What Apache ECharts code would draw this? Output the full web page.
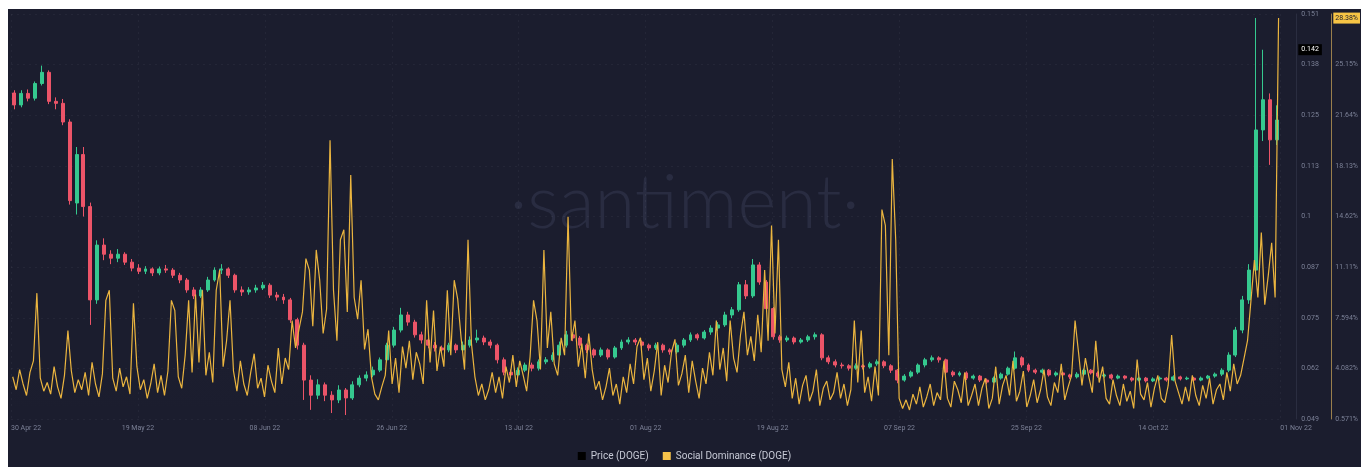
<!DOCTYPE html>
<html><head><meta charset="utf-8">
<script src="https://cdn.jsdelivr.net/npm/echarts@6/dist/echarts.min.js"></script>
<style>
html,body{margin:0;padding:0;background:#fff;}
#c{position:absolute;left:8px;top:9px;width:1353px;height:458px;background:#1b1d2e;}
</style></head><body><div id="c"></div>
<script>
const startDate = '2022-05-02';
const dayCount = 184;
const xTickLabels = ['30 Apr 22','19 May 22','08 Jun 22','26 Jun 22','13 Jul 22','01 Aug 22','19 Aug 22','07 Sep 22','25 Sep 22','14 Oct 22','01 Nov 22'];
const priceTickLabels = ['0.049','0.062','0.075','0.087','0.1','0.113','0.125','0.138','0.151'];
const sdTickLabels = ['0.571%','4.082%','7.594%','11.11%','14.62%','18.13%','21.64%','25.15%',''];
const currentPrice = 0.142;
const currentSD = 28.38;
// daily candles [open, close, low, high]
const priceOHLC = [
[.1311,.1281,.1270,.1318],[.1281,.1310,.1275,.1318],[.1310,.1298,.1290,.1320],[.1298,.1335,.1292,.1340],[.1335,.1363,.1330,.1380],
[.1363,.1290,.1283,.1368],[.1290,.1285,.1270,.1300],[.1285,.1238,.1230,.1296],[.1238,.1040,.1030,.1245],[.1034,.1156,.1005,.1175],
[.1156,.1025,.1000,.1175],[.1025,.0790,.0727,.1035],[.0790,.0928,.0780,.0940],[.0928,.0905,.0890,.0945],[.0905,.0895,.0880,.0915],
[.0895,.0905,.0885,.0918],[.0905,.0885,.0878,.0910],[.0885,.0870,.0862,.0893],[.0870,.0862,.0855,.0880],[.0862,.0868,.0855,.0875],
[.0868,.0858,.0850,.0872],[.0858,.0868,.0852,.0874],[.0868,.0865,.0858,.0878],[.0865,.0852,.0845,.0870],[.0852,.0840,.0832,.0858],
[.0840,.0815,.0808,.0845],[.0815,.0800,.0792,.0822],[.0800,.0815,.0795,.0822],[.0815,.0840,.0810,.0848],[.0840,.0865,.0836,.0872],
[.0865,.0868,.0855,.0880],[.0868,.0852,.0845,.0872],[.0852,.0815,.0808,.0856],[.0815,.0810,.0800,.0824],[.0810,.0815,.0803,.0822],
[.0815,.0820,.0808,.0828],[.0820,.0827,.0815,.0835],[.0827,.0802,.0795,.0832],[.0802,.0797,.0788,.0810],[.0797,.0790,.0780,.0805],
[.0790,.0740,.0732,.0795],[.0740,.0676,.0665,.0745],[.0676,.0588,.0538,.0682],[.0588,.0550,.0513,.0600],[.0550,.0576,.0540,.0590],
[.0576,.0550,.0535,.0582],[.0550,.0538,.0505,.0560],[.0538,.0563,.0530,.0575],[.0563,.0543,.0500,.0568],[.0543,.0576,.0538,.0585],
[.0576,.0593,.0570,.0600],[.0593,.0601,.0585,.0610],[.0601,.0613,.0595,.0622],[.0613,.0639,.0608,.0645],[.0639,.0676,.0632,.0682],
[.0676,.0714,.0670,.0722],[.0714,.0752,.0708,.0770],[.0752,.0734,.0725,.0760],[.0734,.0702,.0695,.0740],[.0702,.0689,.0680,.0710],
[.0689,.0676,.0668,.0695],[.0676,.0669,.0660,.0684],[.0669,.0664,.0655,.0675],[.0664,.0676,.0658,.0682],[.0676,.0664,.0656,.0680],
[.0664,.0676,.0660,.0685],[.0676,.0689,.0670,.0698],[.0689,.0694,.0682,.0715],[.0694,.0684,.0676,.0700],[.0684,.0676,.0668,.0690],
[.0676,.0639,.0630,.0680],[.0639,.0608,.0600,.0645],[.0608,.0601,.0592,.0615],[.0601,.0613,.0596,.0620],[.0613,.0626,.0608,.0632],
[.0626,.0618,.0610,.0632],[.0618,.0634,.0612,.0640],[.0634,.0639,.0628,.0646],[.0639,.0651,.0634,.0658],[.0651,.0676,.0646,.0685],
[.0676,.0702,.0670,.0712],[.0702,.0694,.0686,.0708],[.0694,.0676,.0668,.0699],[.0676,.0664,.0656,.0680],[.0664,.0651,.0644,.0668],
[.0651,.0664,.0646,.0670],[.0664,.0646,.0640,.0668],[.0646,.0669,.0642,.0674],[.0669,.0684,.0664,.0690],[.0684,.0689,.0678,.0696],
[.0689,.0684,.0676,.0694],[.0684,.0676,.0670,.0688],[.0676,.0669,.0662,.0680],[.0669,.0676,.0664,.0682],[.0676,.0664,.0657,.0680],
[.0664,.0659,.0652,.0668],[.0659,.0676,.0654,.0682],[.0676,.0689,.0670,.0694],[.0689,.0702,.0684,.0708],[.0702,.0694,.0688,.0706],
[.0694,.0709,.0690,.0714],[.0709,.0719,.0702,.0726],[.0719,.0727,.0712,.0734],[.0727,.0752,.0722,.0760],[.0752,.0765,.0744,.0772],
[.0765,.0828,.0760,.0835],[.0828,.0800,.0792,.0840],[.0800,.0878,.0795,.0893],[.0878,.0835,.0828,.0885],[.0835,.0768,.0760,.0840],
[.0768,.0697,.0690,.0772],[.0697,.0689,.0682,.0702],[.0689,.0694,.0684,.0700],[.0694,.0684,.0678,.0698],[.0684,.0689,.0680,.0694],
[.0689,.0697,.0684,.0702],[.0697,.0702,.0690,.0708],[.0702,.0644,.0638,.0706],[.0644,.0634,.0628,.0650],[.0634,.0626,.0620,.0640],
[.0626,.0624,.0617,.0632],[.0624,.0618,.0612,.0628],[.0618,.0624,.0614,.0630],[.0624,.0621,.0615,.0628],[.0621,.0629,.0617,.0634],
[.0629,.0634,.0624,.0640],[.0634,.0624,.0618,.0638],[.0624,.0613,.0606,.0628],[.0613,.0588,.0580,.0616],[.0588,.0598,.0584,.0603],
[.0598,.0608,.0594,.0612],[.0608,.0626,.0603,.0630],[.0626,.0639,.0620,.0644],[.0639,.0644,.0634,.0650],[.0644,.0639,.0632,.0648],
[.0639,.0608,.0602,.0642],[.0608,.0601,.0596,.0612],[.0601,.0606,.0597,.0610],[.0606,.0593,.0588,.0610],[.0593,.0598,.0589,.0602],
[.0598,.0588,.0583,.0601],[.0588,.0583,.0578,.0592],[.0583,.0593,.0580,.0597],[.0593,.0603,.0589,.0607],[.0603,.0618,.0599,.0622],
[.0618,.0644,.0614,.0660],[.0644,.0626,.0620,.0648],[.0626,.0613,.0608,.0630],[.0613,.0608,.0603,.0617],[.0608,.0613,.0604,.0617],
[.0613,.0601,.0597,.0616],[.0601,.0606,.0597,.0610],[.0606,.0601,.0596,.0609],[.0601,.0596,.0591,.0604],[.0596,.0603,.0592,.0608],
[.0603,.0613,.0599,.0617],[.0613,.0606,.0602,.0616],[.0606,.0598,.0594,.0610],[.0598,.0601,.0594,.0604],[.0601,.0593,.0589,.0604],
[.0593,.0598,.0590,.0602],[.0598,.0593,.0589,.0600],[.0593,.0588,.0584,.0596],[.0588,.0593,.0585,.0597],[.0593,.0586,.0582,.0596],
[.0586,.0591,.0583,.0595],[.0591,.0593,.0587,.0597],[.0593,.0588,.0584,.0596],[.0588,.0596,.0585,.0600],[.0596,.0591,.0587,.0599],
[.0591,.0593,.0588,.0597],[.0593,.0588,.0584,.0596],[.0588,.0593,.0585,.0597],[.0593,.0598,.0590,.0601],[.0598,.0603,.0594,.0607],
[.0603,.0613,.0598,.0618],[.0613,.0651,.0608,.0658],[.0651,.0714,.0646,.0722],[.0714,.0790,.0706,.0800],[.0790,.0865,.0780,.0880],
[.0865,.1218,.0855,.1500],[.1218,.1294,.1190,.1420],[.1294,.1193,.1130,.1310],[.1193,.1243,.1180,.1280]
];
// social dominance %, two readings per day
const socialDominance = [
3.5,2.6,4.0,3.0,2.2,3.8,4.6,9.3,3.4,2.5,3.1,2.3,4.2,2.8,2.0,3.6,6.7,3.9,2.4,3.3,
2.6,3.8,2.2,4.5,3.0,2.1,3.7,8.8,9.5,3.4,2.5,4.1,2.8,3.5,2.3,8.6,4.2,2.6,3.3,2.0,
3.0,4.4,2.4,3.6,2.2,3.9,8.8,8.1,3.5,2.7,5.0,8.8,3.8,9.2,4.5,9.5,3.6,5.2,3.1,9.5,
10.9,4.2,6.0,8.8,3.9,2.5,4.6,3.0,2.2,3.8,5.1,2.7,3.4,2.1,4.3,3.2,2.4,5.5,3.0,4.8,
4.0,7.4,5.5,6.8,8.0,11.7,10.9,7.0,12.3,10.2,6.5,8.2,19.9,9.5,6.0,13.0,13.7,8.0,17.5,9.0,
7.5,10.2,5.4,6.8,3.5,2.3,1.9,2.8,3.6,6.7,3.0,4.8,2.4,5.6,4.1,6.0,3.3,5.2,4.4,3.0,
8.8,4.5,8.1,3.9,5.6,4.2,9.5,5.0,10.2,8.9,6.2,4.0,13.0,5.8,3.5,2.2,3.0,1.9,2.6,3.8,
2.4,3.5,2.0,4.2,3.1,5.0,2.8,4.6,3.6,2.5,4.9,8.8,7.4,4.0,12.3,5.5,8.0,4.4,3.6,6.2,
5.0,14.6,6.0,7.4,4.2,5.8,3.4,6.5,4.0,2.6,3.2,1.9,2.8,4.1,2.2,3.0,1.6,3.5,2.4,4.4,
3.0,5.6,6.2,3.3,4.8,2.5,3.9,5.9,2.2,4.3,3.1,5.2,6.1,2.9,3.7,5.0,2.4,4.6,3.2,2.0,
4.1,3.0,5.2,3.6,7.4,4.0,5.5,3.2,7.4,4.8,3.8,6.4,8.0,5.0,6.3,4.6,7.8,5.2,10.9,6.0,
14.0,6.5,13.0,4.0,2.8,4.5,2.0,3.4,1.6,2.9,3.6,1.8,2.5,4.0,1.5,2.7,3.2,1.9,2.4,3.8,
2.0,3.0,1.5,2.6,7.4,3.1,6.7,2.4,3.5,1.8,4.2,2.2,15.1,14.0,5.0,18.6,13.0,2.0,1.3,1.9,
1.2,2.3,1.6,2.8,1.4,2.1,3.0,1.5,2.4,1.9,4.6,2.0,1.4,3.2,2.6,1.7,3.8,1.5,2.2,3.0,
1.5,2.7,3.4,1.3,2.0,4.2,1.6,2.9,3.6,2.2,4.6,1.8,2.5,3.9,1.4,2.2,3.3,1.7,2.6,4.0,
2.1,1.5,3.1,2.4,4.4,1.9,2.8,3.6,7.4,5.2,2.9,4.8,3.5,2.4,6.0,3.1,4.2,2.0,1.6,3.3,
2.2,1.5,3.0,1.8,2.5,1.3,4.7,2.3,1.9,3.1,1.4,2.7,3.6,2.0,1.7,2.9,6.4,3.2,2.4,1.6,
2.8,1.8,3.6,2.2,1.5,2.9,2.0,3.4,1.6,2.6,3.0,1.9,3.8,2.5,4.4,3.0,3.6,4.8,6.0,8.8,
11.6,9.0,13.5,8.5,10.5,12.8,9.0,28.38
];

const days = [];
const d0 = new Date(startDate + 'T00:00:00Z');
for (let i = 0; i < dayCount; i++) {
  const d = new Date(d0.getTime() + i * 86400000);
  days.push(d.toISOString().slice(0, 10));
}
const halfDays = [];
days.forEach(d => { halfDays.push(d + ' 00:00'); halfDays.push(d + ' 12:00'); });

const chart = echarts.init(document.getElementById('c'));
const lbl = '#7c8197';
const font = 'Roboto';
chart.setOption({
  animation: false,
  backgroundColor: '#1b1d2e',
  textStyle: { fontFamily: font },
  graphic: [{
    type: 'text', left: 'center', top: 158, z: 0,
    style: { text: '\u00b7santiment\u00b7', fill: '#292c41', font: '300 74px Lato, "Open Sans", sans-serif' }
  }],
  legend: {
    top: 437, left: 'center', itemWidth: 8, itemHeight: 8, itemGap: 14,
    textStyle: { color: '#c6c9d5', fontSize: 10, fontFamily: font },
    data: [
      { name: 'Price (DOGE)', icon: 'rect', itemStyle: { color: '#000000', borderColor: '#000000', borderWidth: 0 } },
      { name: 'Social Dominance (DOGE)', icon: 'rect', itemStyle: { color: '#f6c24a' } }
    ]
  },
  grid: { left: 0, right: 78, top: 5, bottom: 48, containLabel: false },
  xAxis: [
    { type: 'category', data: days, show: false, boundaryGap: true, gridIndex: 0 },
    { type: 'category', data: halfDays, show: false, boundaryGap: true, gridIndex: 0 },
    { type: 'value', min: 0, max: 10, interval: 1, gridIndex: 0, position: 'bottom',
      axisLine: { show: false }, axisTick: { show: false },
      axisLabel: { color: lbl, fontSize: 7, margin: 6, alignMinLabel: 'left', alignMaxLabel: 'left',
        formatter: v => xTickLabels[Math.round(v)] },
      splitLine: { show: true, lineStyle: { color: 'rgba(255,255,255,0.045)', type: [2, 4] } } }
  ],
  yAxis: [
    { type: 'value', min: 0.049, max: 0.151, show: false, gridIndex: 0 },
    { type: 'value', min: 0.571, max: 28.663, show: false, gridIndex: 0 },
    { type: 'value', min: 0, max: 8, interval: 1, position: 'right', offset: 16, gridIndex: 0,
      axisLine: { show: true, lineStyle: { color: '#2a2d40' } }, axisTick: { show: false },
      axisLabel: { color: lbl, fontSize: 7, margin: 5, formatter: v => priceTickLabels[Math.round(v)] },
      splitLine: { show: true, lineStyle: { color: 'rgba(255,255,255,0.045)', type: [2, 4] } } },
    { type: 'value', min: 0, max: 8, interval: 1, position: 'right', offset: 51, gridIndex: 0,
      axisLine: { show: true, lineStyle: { color: '#9a7f4c' } }, axisTick: { show: false },
      axisLabel: { color: lbl, fontSize: 7, margin: 4, formatter: v => sdTickLabels[Math.round(v)] },
      splitLine: { show: false } }
  ],
  series: [
    { name: 'Price (DOGE)', type: 'candlestick', xAxisIndex: 0, yAxisIndex: 0, data: priceOHLC,
      barWidth: '50%',
      itemStyle: { color: '#35c98f', color0: '#ec5468', borderColor: '#35c98f', borderColor0: '#ec5468', borderWidth: 1 },
      markLine: { silent: true, symbol: ['none', 'none'], data: [{ yAxis: currentPrice }],
        lineStyle: { color: 'rgba(0,0,0,0)', width: 0 },
        label: { show: true, position: 'end', distance: 18, offset: [0, -8], formatter: String(currentPrice),
          backgroundColor: '#000000', color: '#ffffff', fontSize: 7, padding: [2, 3], opacity: 1 } } },
    { name: 'Social Dominance (DOGE)', type: 'line', xAxisIndex: 1, yAxisIndex: 1, data: socialDominance,
      symbol: 'none', z: 3,
      lineStyle: { color: '#ebb53f', width: 1.2 },
      itemStyle: { color: '#f6c24a' },
      areaStyle: { color: new echarts.graphic.LinearGradient(0, 0, 0, 1, [
        { offset: 0, color: 'rgba(120,120,130,0.10)' }, { offset: 1, color: 'rgba(120,120,130,0.0)' }]) },
      markLine: { silent: true, symbol: ['none', 'none'], data: [{ yAxis: currentSD }],
        lineStyle: { color: 'rgba(0,0,0,0)', width: 0 },
        label: { show: true, position: 'end', distance: 53, formatter: currentSD + '%',
          backgroundColor: '#f6c445', color: '#1b1d2e', fontSize: 7, padding: [2, 2], opacity: 1 } } }
  ]
});
</script></body></html>
